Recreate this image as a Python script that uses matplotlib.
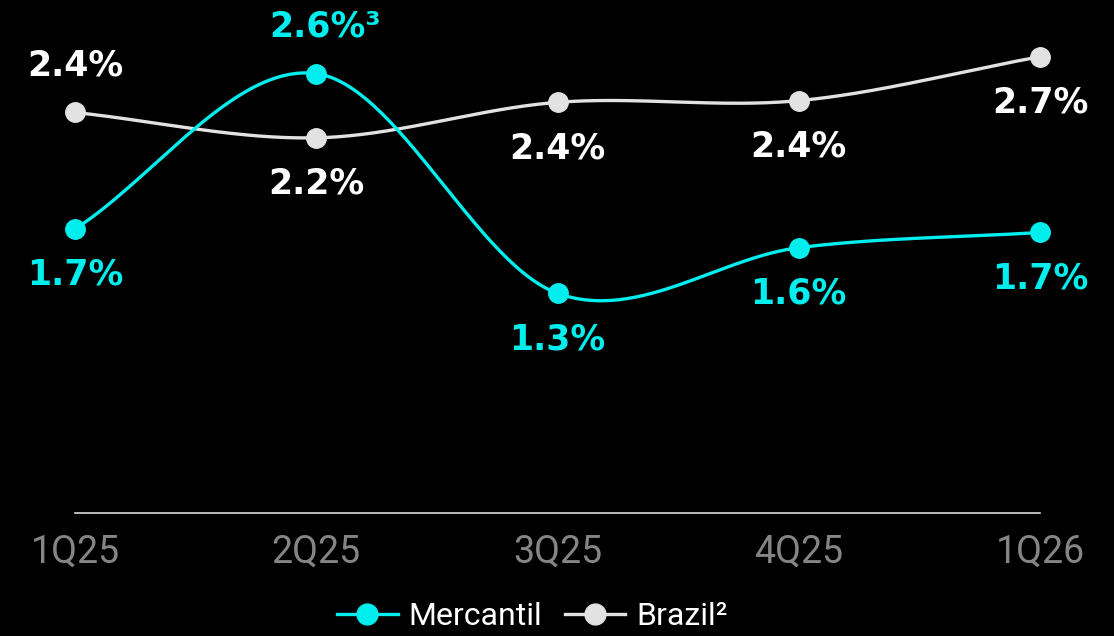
import numpy as np
import matplotlib
matplotlib.use("Agg")
import matplotlib.pyplot as plt
from matplotlib.lines import Line2D

# data (plotted values, labels are rounded)
quarters = ["1Q25", "2Q25", "3Q25", "4Q25", "1Q26"]
mercantil = [1.68, 2.60, 1.30, 1.57, 1.66]
brazil = [2.37, 2.22, 2.43, 2.44, 2.70]
mercantil_labels = ["1.7%", "2.6%³", "1.3%", "1.6%", "1.7%"]
brazil_labels = ["2.4%", "2.2%", "2.4%", "2.4%", "2.7%"]

CYAN = "#00eeee"
GREY = "#e2e2e2"


def smooth(y, n=60):
    """Catmull-Rom spline through evenly spaced points."""
    y = np.asarray(y, dtype=float)
    pts = np.concatenate([[2 * y[0] - y[1]], y, [2 * y[-1] - y[-2]]])
    xs, ys = [], []
    t = np.linspace(0, 1, n)
    for i in range(len(y) - 1):
        p0, p1, p2, p3 = pts[i], pts[i + 1], pts[i + 2], pts[i + 3]
        m1 = (p2 - p0) / 2
        m2 = (p3 - p1) / 2
        h00 = 2 * t**3 - 3 * t**2 + 1
        h10 = t**3 - 2 * t**2 + t
        h01 = -2 * t**3 + 3 * t**2
        h11 = t**3 - t**2
        xs.append(i + t)
        ys.append(h00 * p1 + h10 * m1 + h01 * p2 + h11 * m2)
    return np.concatenate(xs), np.concatenate(ys)


def main():
    fig = plt.figure(figsize=(11.14, 6.36), dpi=100, facecolor="black")
    ax = fig.add_axes([0, 123 / 636, 1, 513 / 636])
    ax.set_facecolor("black")

    x = np.arange(len(quarters))
    ax.set_xlim(-75 / 241.25, (1114 - 75) / 241.25)
    ax.set_ylim(0, 513 / 169)

    xs, ys = smooth(brazil)
    ax.plot(xs, ys, color=GREY, lw=2.4, zorder=2)
    ax.plot(x, brazil, "o", color=GREY, ms=14, zorder=3)
    xs, ys = smooth(mercantil)
    ax.plot(xs, ys, color=CYAN, lw=2.4, zorder=4)
    ax.plot(x, mercantil, "o", color=CYAN, ms=14, zorder=5)

    lab_font = dict(fontfamily="DejaVu Sans", fontweight="bold", fontsize=25,
                    ha="center", va="center")
    for i in range(len(quarters)):
        dy = 34 if i == 1 else -33
        ax.annotate(mercantil_labels[i], (x[i], mercantil[i]),
                    xytext=(6 if i == 1 else 0, dy), textcoords="offset points",
                    color=CYAN, **lab_font)
        dy = 34 if i == 0 else -33
        ax.annotate(brazil_labels[i], (x[i], brazil[i]),
                    xytext=(0, dy), textcoords="offset points",
                    color="white", **lab_font)

    for s in ["top", "left", "right"]:
        ax.spines[s].set_visible(False)
    ax.spines["bottom"].set_color("#d8d8d8")
    ax.spines["bottom"].set_linewidth(1.2)
    ax.spines["bottom"].set_bounds(0, 4)
    ax.set_yticks([])
    ax.set_xticks(x)
    ax.set_xticklabels(quarters, fontfamily="Roboto", fontsize=27, color="#858585")
    ax.tick_params(axis="x", length=0, pad=15)

    handles = [
        Line2D([], [], color=CYAN, lw=2.4, marker="o", ms=15),
        Line2D([], [], color=GREY, lw=2.4, marker="o", ms=15),
    ]
    fig.legend(handles, ["Mercantil", "Brazil²"], loc="lower center",
               bbox_to_anchor=(0.478, -0.038), ncol=2, frameon=False,
               labelcolor="white", prop={"family": "Roboto", "size": 23},
               handlelength=1.9, handletextpad=0.35, columnspacing=0.7)

    fig.savefig("out.png", dpi=100, facecolor="black")


if __name__ == '__main__':
    main()
